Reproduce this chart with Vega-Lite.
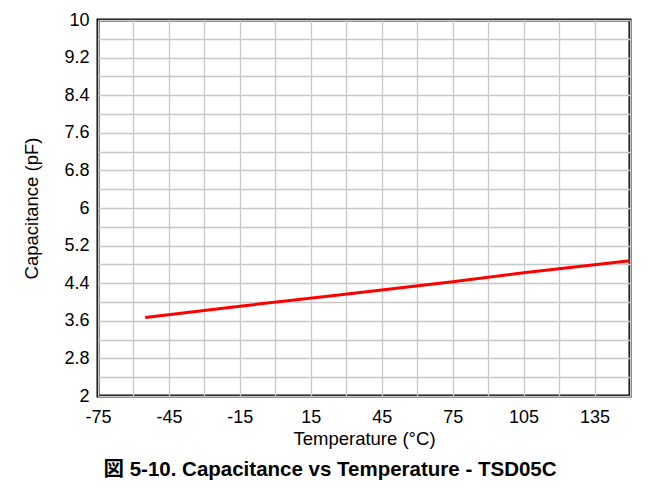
{
  "$schema": "https://vega.github.io/schema/vega-lite/v6.json",
  "autosize": "none",
  "padding": {"left": 98, "top": 20, "right": 33, "bottom": 99},
  "width": 532,
  "height": 376,
  "background": "white",
  "data": {"values": [
    {"t": -55, "c": 3.67},
    {"t": -15, "c": 3.91},
    {"t": 25, "c": 4.14},
    {"t": 75, "c": 4.43},
    {"t": 105, "c": 4.62},
    {"t": 150, "c": 4.88}
  ]},
  "title": {
    "text": "図 5-10. Capacitance vs Temperature - TSD05C",
    "orient": "bottom",
    "anchor": "middle",
    "font": "Liberation Sans, Noto Sans CJK JP",
    "fontSize": 20.5,
    "fontWeight": "bold",
    "color": "black",
    "offset": 12,
    "dx": -34
  },
  "mark": {"type": "line", "color": "#ff0000", "strokeWidth": 3},
  "encoding": {
    "x": {
      "field": "t", "type": "quantitative",
      "scale": {"domain": [-75, 150], "nice": false, "zero": false},
      "axis": {
        "title": "Temperature (°C)",
        "values": [-75, -60, -45, -30, -15, 0, 15, 30, 45, 60, 75, 90, 105, 120, 135, 150],
        "labelExpr": "((datum.value + 75) % 30 == 0 && datum.value < 150) ? ('' + datum.value) : ''",
        "grid": true, "gridColor": "#c8c8c8", "gridWidth": 1.3,
        "ticks": false, "domain": false,
        "labelFont": "Liberation Sans", "labelFontSize": 18, "labelColor": "black", "labelPadding": 12,
        "titleFont": "Liberation Sans", "titleFontSize": 18.5, "titleFontWeight": "normal", "titleColor": "black", "titlePadding": 3,
        "labelOverlap": false, "labelFlush": false
      }
    },
    "y": {
      "field": "c", "type": "quantitative",
      "scale": {"domain": [2, 10], "nice": false, "zero": false},
      "axis": {
        "title": "Capacitance (pF)",
        "values": [2, 2.4, 2.8, 3.2, 3.6, 4, 4.4, 4.8, 5.2, 5.6, 6, 6.4, 6.8, 7.2, 7.6, 8, 8.4, 8.8, 9.2, 9.6, 10],
        "labelExpr": "(round(datum.value * 10) % 8 == 4) ? ('' + datum.value) : ''",
        "grid": true, "gridColor": "#c8c8c8", "gridWidth": 1.3,
        "ticks": false, "domain": false,
        "labelFont": "Liberation Sans", "labelFontSize": 18, "labelColor": "black", "labelPadding": 9,
        "titleFont": "Liberation Sans", "titleFontSize": 18.5, "titleFontWeight": "normal", "titleColor": "black", "titlePadding": 22,
        "labelOverlap": false, "labelFlush": false
      }
    }
  },
  "config": {
    "view": {"stroke": "black", "strokeWidth": 3}
  }
}
